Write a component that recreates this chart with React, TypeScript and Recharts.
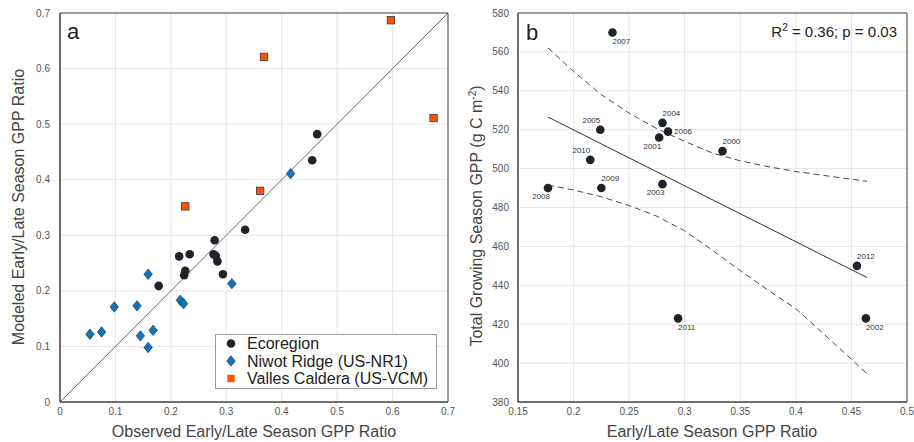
import React from 'react';
import { ScatterChart, Scatter, XAxis, YAxis, CartesianGrid, ReferenceLine, Label } from 'recharts';

// ---------- Panel a data ----------
const ecoObserved = [0.464, 0.455, 0.334, 0.279, 0.215, 0.234, 0.277, 0.281, 0.284, 0.226, 0.224, 0.294, 0.178];
const ecoModeled = [0.482, 0.435, 0.310, 0.291, 0.262, 0.266, 0.266, 0.263, 0.253, 0.236, 0.228, 0.230, 0.209];
const nwtObserved = [0.416, 0.310, 0.159, 0.098, 0.139, 0.217, 0.223, 0.054, 0.075, 0.145, 0.168, 0.159];
const nwtModeled = [0.411, 0.213, 0.230, 0.171, 0.173, 0.183, 0.177, 0.122, 0.126, 0.119, 0.129, 0.098];
const vcmObserved = [0.597, 0.368, 0.674, 0.361, 0.226];
const vcmModeled = [0.687, 0.621, 0.511, 0.380, 0.352];
const aTicks = [0, 0.1, 0.2, 0.3, 0.4, 0.5, 0.6, 0.7];
const legendNames = ['Ecoregion', 'Niwot Ridge (US-NR1)', 'Valles Caldera (US-VCM)'];

// ---------- Panel b data ----------
const years = [2000, 2001, 2002, 2003, 2004, 2005, 2006, 2007, 2008, 2009, 2010, 2011, 2012];
const seasonRatio = [0.334, 0.277, 0.463, 0.280, 0.280, 0.224, 0.285, 0.235, 0.177, 0.225, 0.215, 0.294, 0.455];
const totalGpp = [509, 516, 423, 492, 523.5, 520, 519, 570, 490, 490, 504.5, 423, 450];
const yearLabelSide = ['ne', 'sw', 'se', 'sw', 'ne', 'nw', 'e', 'se', 'sw', 'ne', 'nw', 'se', 'ne'];
const fitX = [0.177, 0.464];
const fitY = [526.5, 444];
const bandX = [0.177, 0.2, 0.225, 0.25, 0.275, 0.3, 0.325, 0.35, 0.375, 0.4, 0.425, 0.45, 0.464];
const bandUpper = [562, 550, 538, 528.5, 520.5, 514, 508, 504, 501, 498.5, 496.5, 494.5, 493.5];
const bandLower = [491.5, 489, 485.5, 481, 475.5, 468, 458, 447.5, 437.5, 428, 415, 402, 394.5];
const bXTicks = [0.15, 0.2, 0.25, 0.3, 0.35, 0.4, 0.45, 0.5];
const bYTicks = [380, 400, 420, 440, 460, 480, 500, 520, 540, 560, 580];

// ---------- tables ----------
const zip = (xs: number[], ys: number[]) => xs.map((x, i) => ({ x, y: ys[i] }));
const ecoData = zip(ecoObserved, ecoModeled);
const nwtData = zip(nwtObserved, nwtModeled);
const vcmData = zip(vcmObserved, vcmModeled);
const yearData = years.map((year, i) => ({ x: seasonRatio[i], y: totalGpp[i], year, side: yearLabelSide[i] }));
const fitData = zip(fitX, fitY);
const upperData = zip(bandX, bandUpper);
const lowerData = zip(bandX, bandLower);

// ---------- styles ----------
const FONT = '"Liberation Sans", Arial, Helvetica, sans-serif';
const AXIS = '#454545';
const TICK_TEXT = '#555555';
const TITLE = '#444444';
const GRID = '#e6e6e6';
const DOT = '#202329';
const BLUE = '#0f75bc';
const ORANGE = '#ff5208';

const fmt = (v: number) => String(v);
const EmptyTick = () => <g />;

const CircleShape = (p: any) => <circle cx={p.cx} cy={p.cy} r={4.3} fill={DOT} />;
const DiamondShape = (p: any) => (
  <polygon
    points={`${p.cx},${p.cy - 5.2} ${p.cx + 4.2},${p.cy} ${p.cx},${p.cy + 5.2} ${p.cx - 4.2},${p.cy}`}
    fill={BLUE}
    stroke="#1d3248"
    strokeWidth={0.7}
  />
);
const SquareShape = (p: any) => (
  <rect x={p.cx - 3.7} y={p.cy - 3.7} width={7.4} height={7.4} fill={ORANGE} stroke="#3a3a3a" strokeWidth={0.8} />
);
const NoShape = () => <g />;

const sideOffsets: Record<string, { dx: number; dy: number; anchor: string }> = {
  ne: { dx: 0, dy: -9.5, anchor: 'start' },
  se: { dx: 0, dy: 8.5, anchor: 'start' },
  e: { dx: 6, dy: 0, anchor: 'start' },
  nw: { dx: 0, dy: -9.5, anchor: 'end' },
  sw: { dx: 2, dy: 8.5, anchor: 'end' },
};

const YearDot = (p: any) => {
  const o = sideOffsets[p.payload.side];
  return (
    <g>
      <circle cx={p.cx} cy={p.cy} r={4.3} fill={DOT} />
      <text x={p.cx + o.dx} y={p.cy + o.dy} dy="0.35em" textAnchor={o.anchor} fontSize={8} fill="#333">
        {p.payload.year}
      </text>
    </g>
  );
};

const tickStyle = { fill: TICK_TEXT, fontSize: 10 };

const PanelA = () => (
  <ScatterChart width={460} height={442} margin={{ top: 13, right: 12, bottom: 0, left: 0 }}>
    <CartesianGrid stroke={GRID} fill="none" />
    <XAxis
      type="number"
      dataKey="x"
      domain={[0, 0.7]}
      ticks={aTicks}
      interval={0}
      height={40}
      tickLine={false}
      tickSize={0}
      tickMargin={6}
      axisLine={{ stroke: AXIS }}
      tick={tickStyle}
      tickFormatter={fmt}
    >
      <Label
        content={() => (
          <text x={254} y={437} textAnchor="middle" fontSize={16} fill={TITLE}>
            Observed Early/Late Season GPP Ratio
          </text>
        )}
      />
    </XAxis>
    <YAxis
      type="number"
      dataKey="y"
      domain={[0, 0.7]}
      ticks={aTicks}
      interval={0}
      width={60}
      tickLine={false}
      tickSize={0}
      tickMargin={10}
      axisLine={{ stroke: AXIS }}
      tick={tickStyle}
      tickFormatter={fmt}
    >
      <Label
        content={() => (
          <text x={24} y={207} transform="rotate(-90 24 207)" textAnchor="middle" fontSize={16} fill={TITLE}>
            Modeled Early/Late Season GPP Ratio
          </text>
        )}
      />
    </YAxis>
    <XAxis xAxisId="bm" orientation="bottom" mirror type="number" domain={[0, 0.7]} ticks={aTicks} interval={0} tickSize={4} tick={EmptyTick} axisLine={{ stroke: AXIS }} tickLine={{ stroke: AXIS }} />
    <XAxis xAxisId="t" orientation="top" mirror type="number" domain={[0, 0.7]} ticks={aTicks} interval={0} tickSize={4} tick={EmptyTick} axisLine={{ stroke: AXIS }} tickLine={{ stroke: AXIS }}>
      <Label
        content={() => (
          <text x={67} y={39} fontSize={22} fill="#222">
            a
          </text>
        )}
      />
    </XAxis>
    <YAxis yAxisId="lm" orientation="left" mirror type="number" domain={[0, 0.7]} ticks={aTicks} interval={0} tickSize={4} tick={EmptyTick} axisLine={{ stroke: AXIS }} tickLine={{ stroke: AXIS }} />
    <YAxis yAxisId="r" orientation="right" mirror type="number" domain={[0, 0.7]} ticks={aTicks} interval={0} tickSize={4} tick={EmptyTick} axisLine={{ stroke: AXIS }} tickLine={{ stroke: AXIS }} />
    <ReferenceLine segment={[{ x: 0, y: 0 }, { x: 0.7, y: 0.7 }]} stroke="#686868" strokeWidth={1} ifOverflow="visible" />
    <Scatter data={ecoData} shape={CircleShape} isAnimationActive={false} />
    <Scatter data={nwtData} shape={DiamondShape} isAnimationActive={false} />
    <Scatter data={vcmData} shape={SquareShape} isAnimationActive={false} />
  </ScatterChart>
);

const PanelB = () => (
  <ScatterChart width={456} height={442} margin={{ top: 13, right: 7, bottom: 0, left: 0 }}>
    <CartesianGrid stroke={GRID} fill="none" />
    <XAxis
      type="number"
      dataKey="x"
      domain={[0.15, 0.5]}
      ticks={bXTicks}
      interval={0}
      height={40}
      tickLine={false}
      tickSize={0}
      tickMargin={6}
      axisLine={{ stroke: AXIS }}
      tick={tickStyle}
      tickFormatter={fmt}
    >
      <Label
        content={() => (
          <text x={254} y={437} textAnchor="middle" fontSize={16} fill={TITLE}>
            Early/Late Season GPP Ratio
          </text>
        )}
      />
    </XAxis>
    <YAxis
      type="number"
      dataKey="y"
      domain={[380, 580]}
      ticks={bYTicks}
      interval={0}
      width={60}
      tickLine={false}
      tickSize={0}
      tickMargin={9}
      axisLine={{ stroke: AXIS }}
      tick={tickStyle}
      tickFormatter={fmt}
    >
      <Label
        content={() => (
          <text x={24} y={216} transform="rotate(-90 24 216)" textAnchor="middle" fontSize={16} fill={TITLE}>
            Total Growing Season GPP (g C m
            <tspan dy={-6} fontSize={10}>-2</tspan>
            <tspan dy={6}>)</tspan>
          </text>
        )}
      />
    </YAxis>
    <XAxis xAxisId="bm" orientation="bottom" mirror type="number" domain={[0.15, 0.5]} ticks={bXTicks} interval={0} tickSize={4} tick={EmptyTick} axisLine={{ stroke: AXIS }} tickLine={{ stroke: AXIS }} />
    <XAxis xAxisId="t" orientation="top" mirror type="number" domain={[0.15, 0.5]} ticks={bXTicks} interval={0} tickSize={4} tick={EmptyTick} axisLine={{ stroke: AXIS }} tickLine={{ stroke: AXIS }}>
      <Label
        content={() => (
          <g>
            <text x={68} y={40} fontSize={22} fill="#222">
              b
            </text>
            <text x={439} y={37} textAnchor="end" fontSize={15} fill="#222">
              R<tspan dy={-6} fontSize={10}>2</tspan>
              <tspan dy={6}> = 0.36; p = 0.03</tspan>
            </text>
          </g>
        )}
      />
    </XAxis>
    <YAxis yAxisId="lm" orientation="left" mirror type="number" domain={[380, 580]} ticks={bYTicks} interval={0} tickSize={4} tick={EmptyTick} axisLine={{ stroke: AXIS }} tickLine={{ stroke: AXIS }} />
    <YAxis yAxisId="r" orientation="right" mirror type="number" domain={[380, 580]} ticks={bYTicks} interval={0} tickSize={4} tick={EmptyTick} axisLine={{ stroke: AXIS }} tickLine={{ stroke: AXIS }} />
    <Scatter data={upperData} shape={NoShape} line={{ stroke: '#333', strokeWidth: 0.9, strokeDasharray: '6 4' }} isAnimationActive={false} />
    <Scatter data={lowerData} shape={NoShape} line={{ stroke: '#333', strokeWidth: 0.9, strokeDasharray: '6 4' }} isAnimationActive={false} />
    <Scatter data={fitData} shape={NoShape} line={{ stroke: '#333', strokeWidth: 1 }} isAnimationActive={false} />
    <Scatter data={yearData} shape={YearDot} isAnimationActive={false} />
  </ScatterChart>
);

const legendMarkers = [
  <circle key="c" cx={16} cy={9.5} r={4.3} fill={DOT} />,
  <polygon key="d" points="16,21.8 20.2,27 16,32.2 11.8,27" fill={BLUE} stroke="#1d3248" strokeWidth={0.7} />,
  <rect key="s" x={12.3} y={40.8} width={7.4} height={7.4} fill={ORANGE} />,
];

const LegendBox = () => (
  <svg width={222} height={55} style={{ position: 'absolute', left: 215, top: 334 }}>
    <rect x={0.5} y={0.5} width={221} height={54} fill="#fff" stroke="#9a9a9a" strokeWidth={1} />
    {legendNames.map((name, i) => (
      <g key={name}>
        {legendMarkers[i]}
        <text x={32} y={9.5 + i * 17.5} dy="0.35em" fontSize={16} fill="#222">
          {name}
        </text>
      </g>
    ))}
  </svg>
);

export default function App() {
  return (
    <div
      style={{
        position: 'absolute',
        left: 0,
        top: 0,
        width: 914,
        height: 442,
        background: '#fff',
        fontFamily: FONT,
      }}
    >
      <div style={{ position: 'absolute', left: 0, top: 0 }}>
        <PanelA />
      </div>
      <LegendBox />
      <div style={{ position: 'absolute', left: 458, top: 0 }}>
        <PanelB />
      </div>
    </div>
  );
}
